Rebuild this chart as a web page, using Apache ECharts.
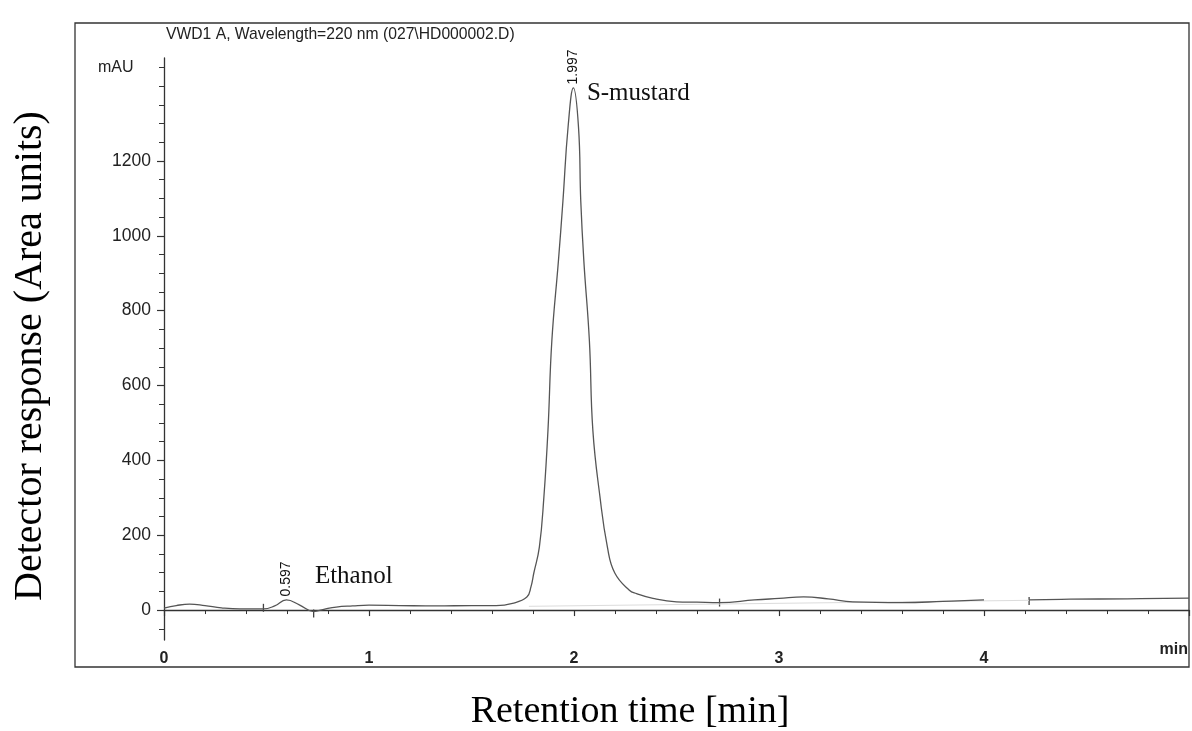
<!DOCTYPE html>
<html>
<head>
<meta charset="utf-8">
<script src="https://cdn.jsdelivr.net/npm/echarts@6/dist/echarts.min.js"></script>
<style>
  html, body { margin: 0; padding: 0; background: #fff; }
  #main { width: 1192px; height: 731px; }
</style>
</head>
<body>
<div id="main"></div>
<script>
// retention time (min) and detector signal (mAU)
var times = [0.00, 0.06, 0.125, 0.20, 0.28, 0.37, 0.485, 0.54, 0.597, 0.66, 0.73, 0.78, 0.84, 0.92, 1.00, 1.15, 1.33, 1.50,
    1.62, 1.70, 1.77, 1.79, 1.804, 1.831, 1.853, 1.873, 1.892, 1.924, 1.946, 1.971, 1.997, 2.022, 2.033, 2.048, 2.075,
    2.092, 2.127, 2.163, 2.199, 2.27, 2.305, 2.385, 2.50, 2.60, 2.71, 2.88, 3.00, 3.12, 3.24, 3.36, 3.60, 3.80, 4.00,
    4.11, 4.22, 4.42, 4.70, 5.00];
var response = [5, 12, 16, 12, 6, 3, 3, 11, 27, 14, -4, 2, 8, 11, 13, 12, 11, 12,
    12, 18, 35, 62, 99, 168, 301, 480, 720, 933, 1093, 1290, 1395, 1290, 1093, 933, 720,
    480, 301, 168, 99, 53, 44, 31, 22, 21, 20, 27, 31, 35, 30, 22, 20, 23, 27,
    '-', 27, 29, 30, 32];

// integration baseline under the main peak
var baseT = [1.78, 4.22];
var baseV = [10, 26];

// integration event marks on the trace
var eventT = [0.485, 0.73, 2.71, 4.22];
var eventV = [6, -9, 20, 24];

// named peaks
var peakNames = ['Ethanol', 'S-mustard'];
var peakTimes = [0.597, 1.997];
var peakHeights = [27, 1395];

var yLabelTicks = [0, 200, 400, 600, 800, 1000, 1200];
var yMinorTicks = [-50, 0, 50, 100, 150, 200, 250, 300, 350, 400, 450, 500, 550, 600, 650, 700, 750, 800, 850, 900,
    950, 1000, 1050, 1100, 1150, 1200, 1250, 1300, 1350, 1400, 1450];
var xLabelTicks = [0, 1, 2, 3, 4];

var traceData = times.map(function (t, i) { return [t, response[i]]; });
var baseData = baseT.map(function (t, i) { return [t, baseV[i]]; });
var eventData = eventT.map(function (t, i) { return [t, eventV[i]]; });
var peakData = peakTimes.map(function (t, i) { return [t, peakHeights[i]]; });

var nameOffsets = [[28, -24], [13, 5]];

var axisColor = '#333';
var sans = 'Liberation Sans';
var serif = 'Liberation Serif';

var myChart = echarts.init(document.getElementById('main'));

var option = {
    animation: false,
    backgroundColor: '#fff',
    grid: {
        left: 164,
        right: 3,
        top: 58,
        bottom: 91
    },
    xAxis: {
        type: 'value',
        min: 0,
        max: 5,
        interval: 1,
        splitLine: { show: false },
        axisLine: { lineStyle: { color: axisColor, width: 1.3 } },
        axisTick: { length: 6, lineStyle: { color: axisColor, width: 1.2 } },
        minorTick: { show: true, splitNumber: 5, length: 4, lineStyle: { color: axisColor, width: 1 } },
        axisLabel: {
            customValues: xLabelTicks,
            margin: 11,
            color: '#222',
            fontFamily: sans,
            fontSize: 16,
            fontWeight: 'bold'
        }
    },
    yAxis: [{
        type: 'value',
        min: -80,
        max: 1475,
        splitLine: { show: false },
        axisLine: { show: true, lineStyle: { color: axisColor, width: 1.3 } },
        axisTick: { show: true, customValues: yLabelTicks, length: 7, lineStyle: { color: axisColor, width: 1.2 } },
        axisLabel: {
            customValues: yLabelTicks,
            margin: 13,
            color: '#222',
            fontFamily: sans,
            fontSize: 17.5,
            formatter: function (v) { return String(v); }
        }
    }, {
        type: 'value',
        position: 'left',
        min: -80,
        max: 1475,
        splitLine: { show: false },
        axisLine: { show: false },
        axisTick: { show: true, customValues: yMinorTicks, length: 5, lineStyle: { color: axisColor, width: 1 } },
        axisLabel: { show: false }
    }],
    series: [{
        name: 'baseline',
        type: 'line',
        data: baseData,
        symbol: 'none',
        silent: true,
        lineStyle: { color: '#dcdcdc', width: 1 }
    }, {
        name: 'VWD1 A',
        type: 'line',
        data: traceData,
        symbol: 'none',
        smooth: 0.45,
        connectNulls: false,
        lineStyle: { color: '#555', width: 1.3 }
    }, {
        name: 'events',
        type: 'scatter',
        data: eventData,
        symbol: 'rect',
        symbolSize: [1.3, 8],
        itemStyle: { color: '#444', opacity: 1 }
    }, {
        name: 'rt',
        type: 'scatter',
        data: peakData,
        symbolSize: 1,
        itemStyle: { color: 'rgba(0,0,0,0)', opacity: 1 },
        label: {
            show: true,
            position: 'top',
            distance: 3,
            rotate: 90,
            align: 'left',
            verticalAlign: 'middle',
            fontFamily: sans,
            fontSize: 14,
            color: '#111',
            formatter: function (p) { return p.value[0].toFixed(3); }
        }
    }, {
        name: 'names',
        type: 'scatter',
        data: peakData.map(function (d, i) {
            return {
                value: d,
                name: peakNames[i],
                label: { offset: nameOffsets[i] }
            };
        }),
        symbolSize: 1,
        itemStyle: { color: 'rgba(0,0,0,0)', opacity: 1 },
        label: {
            show: true,
            position: 'right',
            distance: 0,
            fontFamily: serif,
            fontSize: 25,
            color: '#111',
            formatter: '{b}'
        }
    }],
    graphic: [{
        type: 'rect',
        shape: { x: 75, y: 23, width: 1114, height: 644 },
        style: { fill: 'none', stroke: '#333', lineWidth: 1.3 },
        silent: true
    }, {
        type: 'text',
        left: 166,
        top: 27,
        style: { text: 'VWD1 A, Wavelength=220 nm (027\\HD000002.D)', fontFamily: sans, fontSize: 15.7, fill: '#222' }
    }, {
        type: 'text',
        left: 98,
        top: 60,
        style: { text: 'mAU', fontFamily: sans, fontSize: 16, fill: '#222' }
    }, {
        type: 'text',
        right: 4,
        top: 642,
        style: { text: 'min', fontFamily: sans, fontSize: 16, fontWeight: 'bold', fill: '#222' }
    }, {
        type: 'text',
        x: 630,
        y: 712,
        style: { text: 'Retention time [min]', fontFamily: serif, fontSize: 38, fill: '#000', align: 'center', verticalAlign: 'middle' }
    }, {
        type: 'text',
        x: 30,
        y: 356,
        rotation: Math.PI / 2,
        style: { text: 'Detector response (Area units)', fontFamily: serif, fontSize: 40, fill: '#000', align: 'center', verticalAlign: 'middle' }
    }]
};

myChart.setOption(option);
</script>
</body>
</html>
